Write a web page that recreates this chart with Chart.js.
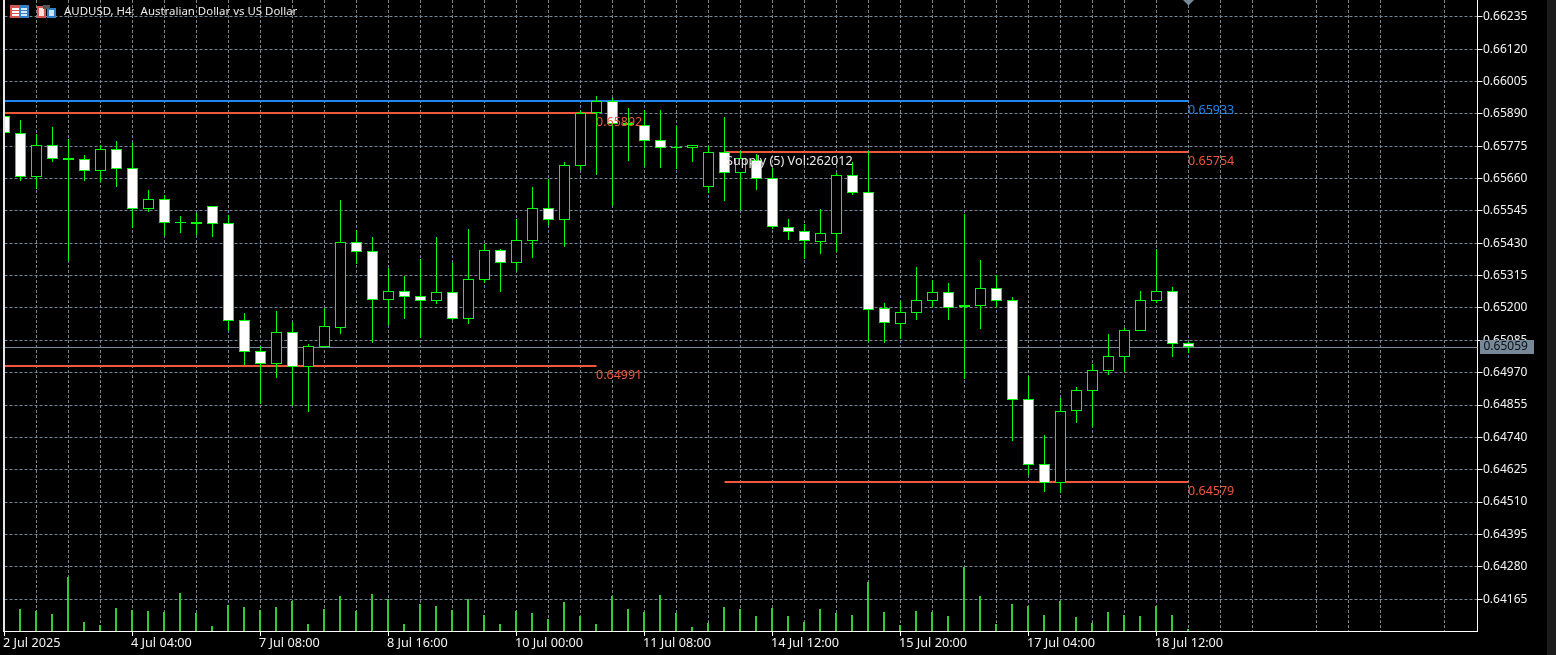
<!DOCTYPE html>
<html><head><meta charset="utf-8"><title>AUDUSD H4</title>
<style>html,body{margin:0;padding:0;background:#000;overflow:hidden}canvas{display:block;background:#000}</style>
<script src="https://cdn.jsdelivr.net/npm/chart.js@4/dist/chart.umd.min.js"></script>
</head><body><canvas id="c" width="1556" height="655"></canvas>
<script>
const opens=[.65881,.65821,.65667,.65778,.65733,.65729,.65688,.65764,.65697,.6555,.65586,.65505,.65506,.65561,.65501,.65156,.65046,.64999,.65114,.64991,.65061,.6513,.65433,.65401,.6523,.65259,.65241,.65223,.65256,.65162,.65301,.65405,.65361,.65439,.65554,.65514,.65706,.65892,.65935,.65859,.65849,.65796,.65769,.6577,.65631,.65753,.65681,.65725,.65661,.65487,.65472,.65436,.65464,.65671,.65611,.65199,.65144,.65183,.65226,.65255,.65202,.65208,.6527,.65227,.64875,.64644,.64579,.64835,.64906,.64977,.65027,.65119,.65226,.65259,.65074];
const highs=[.65886,.65867,.65819,.65843,.658,.65743,.65779,.65794,.65788,.65619,.65601,.65527,.65538,.65561,.65532,.65182,.65064,.65189,.65149,.65072,.652,.65584,.65477,.65452,.65342,.65314,.65374,.65452,.6536,.6548,.65428,.6541,.65515,.6563,.65659,.65718,.65899,.65954,.65945,.6591,.65903,.65903,.65847,.65778,.65775,.65878,.65757,.65746,.65697,.65515,.65498,.65552,.65678,.65718,.65757,.65216,.65223,.65346,.65298,.65287,.65534,.65369,.65317,.65238,.64957,.64748,.64879,.64918,.64999,.65107,.65127,.65259,.65408,.65274,.6508];
const lows=[.65815,.65653,.65623,.65719,.65367,.65651,.65648,.6563,.65483,.65541,.65456,.65465,.65458,.65452,.65119,.64996,.64859,.64951,.64852,.6483,.65061,.65108,.65355,.65076,.6514,.65161,.65093,.65214,.65157,.65143,.6529,.65255,.65333,.65378,.65495,.65418,.65691,.65673,.65564,.65723,.657,.65698,.65695,.65719,.6561,.6558,.65548,.65619,.65481,.65442,.65374,.65392,.65399,.65601,.6508,.65075,.65088,.65157,.65204,.65157,.64949,.65125,.65204,.64727,.64607,.64546,.64542,.64791,.64778,.64962,.64971,.65119,.65216,.65026,.65039];
const closes=[.65821,.65667,.65778,.65731,.65727,.65688,.65764,.65695,.6555,.65586,.65503,.65502,.655,.655,.65155,.65045,.64999,.65114,.64991,.65064,.65135,.65433,.654,.6523,.65259,.6524,.65223,.65256,.65162,.65302,.65405,.65361,.65441,.65554,.65514,.65707,.65892,.65935,.65854,.65849,.65795,.6577,.65772,.65778,.65753,.65681,.65732,.6566,.65486,.65471,.65437,.65465,.65671,.6561,.65194,.65145,.65184,.65227,.65255,.65201,.65209,.6527,.65226,.64874,.64643,.64579,.64832,.64907,.64978,.65028,.6512,.65227,.65259,.65073,.6506];
const volumes=[2000,2200,2030,1730,5400,930,630,2330,2130,2030,1930,3830,1830,530,2630,2430,2130,2430,3030,730,2230,3530,2030,3730,3230,730,2730,2530,2130,3200,1630,730,2030,1830,1230,2930,1530,730,3530,2200,1930,3630,1830,430,830,2430,2230,1530,2330,1530,930,2230,1830,1630,4930,1930,630,2030,1930,1530,6430,3530,730,2730,2530,1630,3030,1430,830,1930,1630,1530,2530,1630,230];
const yTickValues=[.66235,.6612,.66005,.6589,.65775,.6566,.65545,.6543,.65315,.652,.65085,.6497,.64855,.6474,.64625,.6451,.64395,.6428,.64165];
const xTickLabels=["2 Jul 2025","4 Jul 04:00","7 Jul 08:00","8 Jul 16:00","10 Jul 00:00","11 Jul 08:00","14 Jul 12:00","15 Jul 20:00","17 Jul 04:00","18 Jul 12:00"];
const levelValues=[.65933,.65892,.65754,.64991,.64579];
const levelLabels=["0.65933","0.65892","0.65754","0.64991","0.64579"];
const levelStarts=[0,0,45,0,45];
const levelEnds=[74,37,74,37,74];
const levelColors=["#1e88f0","#f0583c","#f0583c","#f0583c","#f0583c"];
const currentPrice=.65059;
const titleText="AUDUSD, H4:  Australian Dollar vs US Dollar";
const noteText="Supply (5) Vol:262012";
const noteBar=45, noteLevel=.65754;

const FONT='"Noto Sans", sans-serif';
const GRID='#778899', UP='#000000', DOWN='#ffffff', EDGE='#00ff00', VOL='#32cd32';
const PXY=28132.2, Y0=16.78, H=631;
const yMax=.66235+Y0/PXY, yMin=.66235-(H-Y0)/PXY;
const idx=opens.map((_,i)=>i);

const snap={id:'snap',beforeDatasetsDraw(ch){
  ch.data.datasets.forEach((d,di)=>{
    const m=ch.getDatasetMeta(di);
    if(m.type==='bar'){m.data.forEach(el=>{el.y=Math.round(el.y);el.base=Math.round(el.base);
      if(d.snapLeft)el.x=Math.floor(el.x);});}
    if(d.levelLine){m.data.forEach(el=>{el.y=Math.floor(el.y)+(d.borderWidth%2?0.5:0);});}
  });
}};
const deco={id:'deco',
 afterDatasetsDraw(ch){
  const c=ch.ctx,x=ch.scales.x,y=ch.scales.y;
  c.save();c.font='12.5px '+FONT;c.textBaseline='middle';c.textAlign='left';
  levelValues.forEach((v,i)=>{c.fillStyle=levelColors[i];
    c.fillText(levelLabels[i],x.getPixelForValue(levelEnds[i])-0.5,Math.floor(y.getPixelForValue(v))+9);});
  c.fillStyle='#e8e8e8';c.font='12.7px '+FONT;
  c.fillText(noteText,x.getPixelForValue(noteBar)+1.5,Math.floor(y.getPixelForValue(noteLevel))+9);
  c.restore();
 },
 afterDraw(ch){
  const c=ch.ctx,y=ch.scales.y;
  c.save();
  c.fillStyle='#e6e6e6';c.fillRect(3,0,2,632);
  c.fillStyle='#1c1c1c';c.fillRect(1547,0,9,655);
  // current price tag
  const py=Math.floor(y.getPixelForValue(currentPrice));
  c.fillStyle=GRID;c.fillRect(1480,py-7,54,14);
  c.fillStyle='#0c1014';c.font='12px '+FONT;c.textBaseline='middle';c.textAlign='left';
  c.fillText(currentPrice.toFixed(5),1483.5,py);
  // title
  c.font='11.45px '+FONT;c.fillStyle='#ececec';c.fillText(titleText,64,12);
  // header icons
  c.fillStyle='#d9534f';c.fillRect(10,5,19,13);
  c.fillStyle='#2f80c8';c.fillRect(20,5,9,13);
  c.fillStyle='#fff';c.fillRect(12,8,7,2);c.fillRect(12,11,7,2);c.fillRect(12,14,7,2);
  c.fillStyle='#dbe8f5';c.fillRect(21,8,6,2);c.fillRect(21,11,6,2);c.fillRect(21,14,6,2);
  c.fillStyle='#d9534f';c.fillRect(37,6,9,12);
  c.fillStyle='#2f80c8';c.fillRect(47,8,9,10);
  c.fillStyle='#ffe3dc';c.fillRect(39,8,5,8);
  c.fillStyle='#cfe2f5';c.fillRect(49,10,5,6);
  c.fillStyle='#555';c.fillRect(43,5,7,4);
  c.restore();
 }};

new Chart(document.getElementById('c'),{
 type:'bar',
 data:{datasets:[
  ...levelValues.map((v,i)=>({type:'line',levelLine:true,data:[{x:levelStarts[i],y:v},{x:levelEnds[i],y:v}],borderColor:levelColors[i],borderWidth:2,pointRadius:0,order:6})),
  {type:'line',levelLine:true,data:[{x:0,y:currentPrice},{x:92.0625,y:currentPrice}],borderColor:GRID,borderWidth:1,pointRadius:0,order:7},
  {type:'bar',label:'Volume',snapLeft:true,yAxisID:'y1',grouped:false,data:idx.map(i=>({x:i,y:volumes[i]})),backgroundColor:VOL,barThickness:2,inflateAmount:0,order:5},
  {type:'bar',label:'Wick',grouped:false,data:idx.map(i=>({x:i,y:[lows[i],highs[i]]})),backgroundColor:EDGE,barThickness:1,inflateAmount:0,order:4},
  {type:'bar',label:'Body',grouped:false,data:idx.map(i=>({x:i,y:[opens[i],closes[i]]})),backgroundColor:idx.map(i=>closes[i]<opens[i]?DOWN:UP),borderColor:EDGE,borderWidth:1,borderSkipped:false,barThickness:11,minBarLength:1,inflateAmount:0,order:3},
  {type:'line',label:'Marker',showLine:false,data:[{x:74,y:yMax}],pointStyle:'rectRot',pointRadius:5.5,pointBackgroundColor:GRID,pointBorderColor:GRID,pointBorderWidth:0,order:2}
 ]},
 options:{
  responsive:false,animation:false,events:[],
  layout:{autoPadding:false,padding:{left:4.5,top:0,right:0,bottom:0}},
  plugins:{legend:{display:false},tooltip:{enabled:false},title:{display:false}},
  scales:{
   x:{type:'linear',min:0,max:92.0625,offset:false,
    grid:{offset:false,color:GRID,lineWidth:1,tickLength:5,tickColor:c=>c.tick&&c.tick.value%8===0?'#ffffff':'rgba(0,0,0,0)'},
    border:{color:'#ffffff',width:1,dash:[3,2]},
    afterBuildTicks:a=>{const t=[];for(let i=0;i<=90;i+=2)t.push({value:i});a.ticks=t;},
    afterFit:a=>{a.height=24;a.paddingLeft=0;a.paddingRight=0;},
    ticks:{autoSkip:false,maxRotation:0,minRotation:0,align:'start',padding:0,labelOffset:-1.5,color:'#f4f4f4',font:{family:FONT,size:12.7},
     callback:v=>v%8===0?xTickLabels[v/8]:''}},
   y:{type:'linear',position:'right',min:yMin,max:yMax,beginAtZero:false,
    grid:{color:GRID,lineWidth:1,tickLength:5,tickColor:'#ffffff'},
    border:{color:'#ffffff',width:1,dash:[3,2]},
    afterBuildTicks:a=>{a.ticks=yTickValues.map(v=>({value:v}));},
    afterFit:a=>{a.width=78.5;a.paddingTop=0;a.paddingBottom=0;},
    ticks:{autoSkip:false,padding:0.5,color:'#f4f4f4',font:{family:FONT,size:12},callback:v=>v.toFixed(5)}},
   y1:{type:'linear',display:false,position:'right',min:0,max:63100}
  }
 },
 plugins:[snap,deco]
});
</script></body></html>
